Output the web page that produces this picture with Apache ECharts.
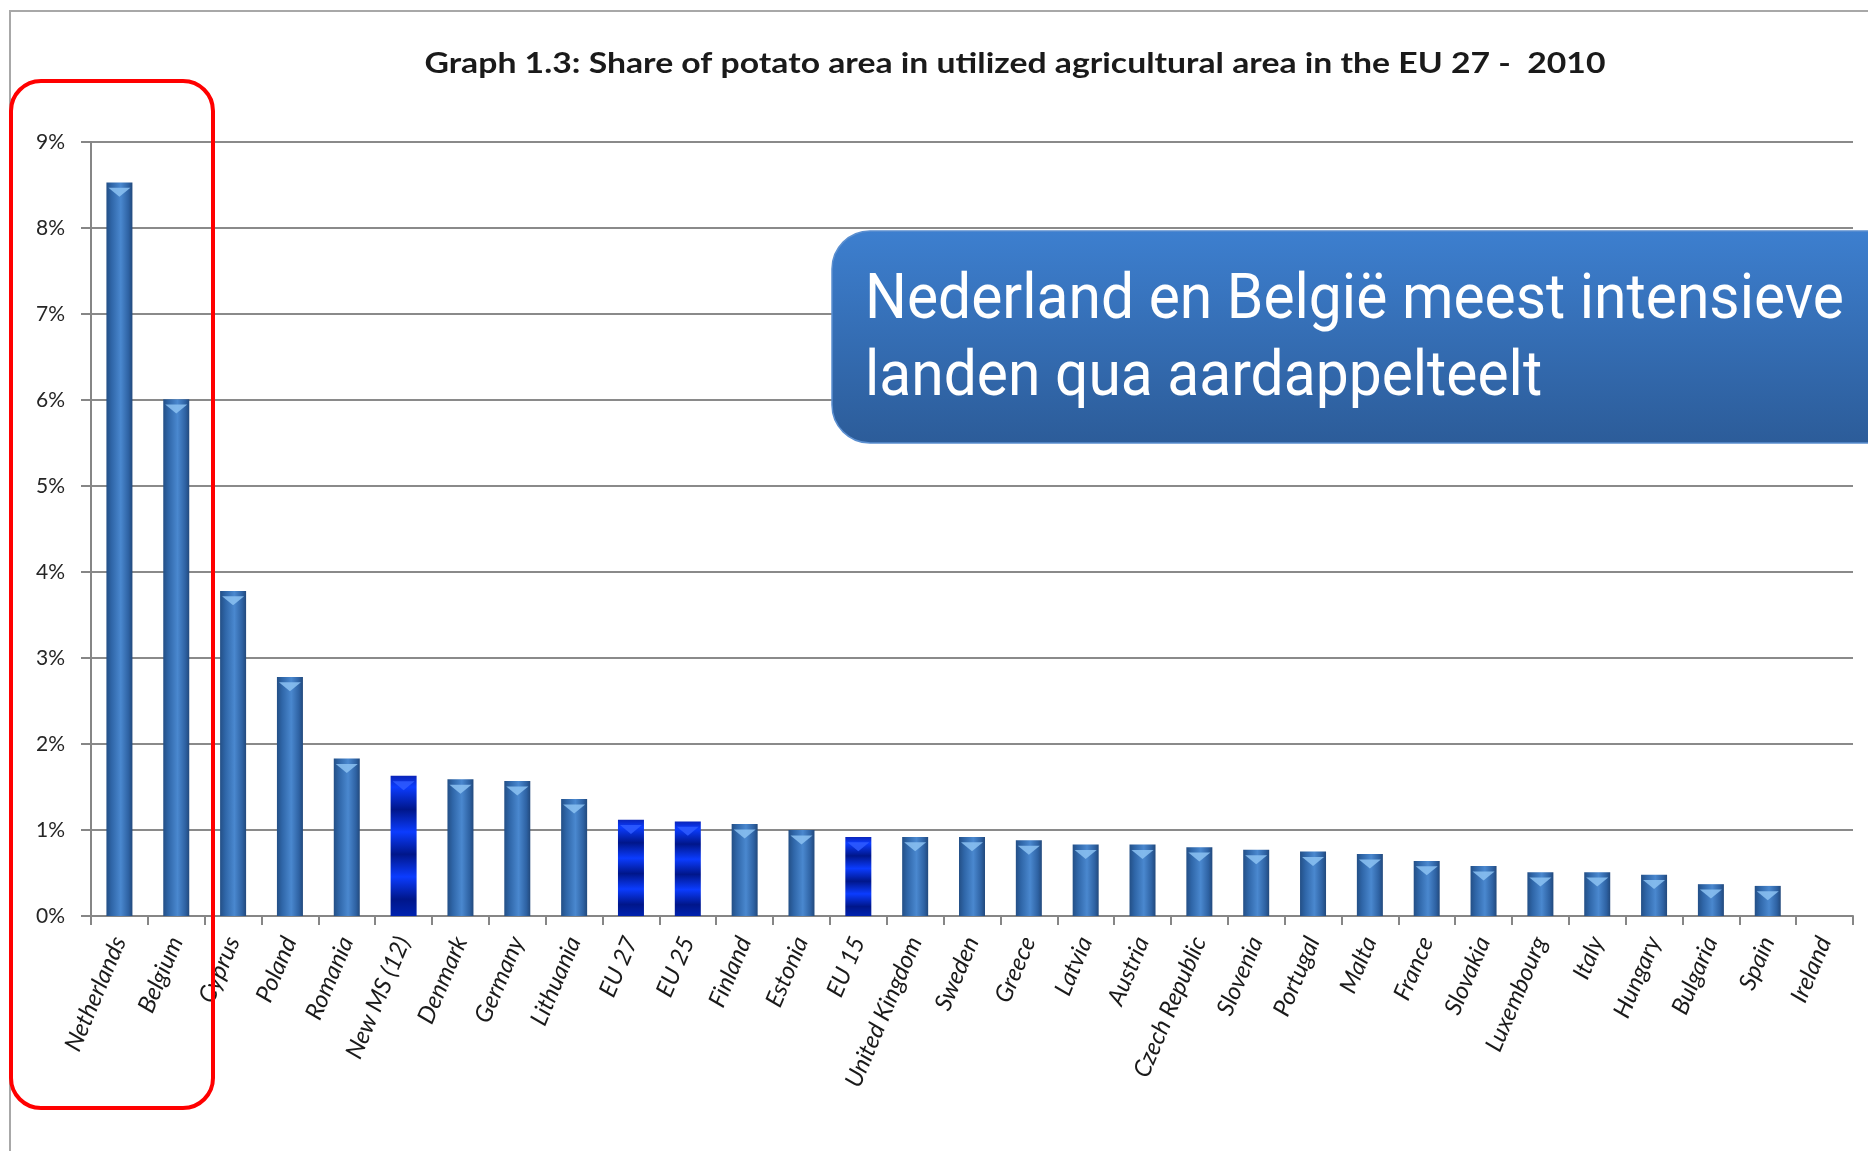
<!DOCTYPE html>
<html>
<head>
<meta charset="utf-8">
<title>Share of potato area</title>
<script src="https://cdn.jsdelivr.net/npm/echarts@6/dist/echarts.min.js"></script>
<style>
  html, body { margin: 0; padding: 0; background: #fff; }
  #chart { width: 1868px; height: 1151px; }
</style>
</head>
<body>
<div id="chart"></div>
<script>
'use strict';

// categories, in the order of the picture
var countries = [
  'Netherlands', 'Belgium', 'Cyprus', 'Poland', 'Romania', 'New MS (12)',
  'Denmark', 'Germany', 'Lithuania', 'EU 27', 'EU 25', 'Finland', 'Estonia',
  'EU 15', 'United Kingdom', 'Sweden', 'Greece', 'Latvia', 'Austria',
  'Czech Republic', 'Slovenia', 'Portugal', 'Malta', 'France', 'Slovakia',
  'Luxembourg', 'Italy', 'Hungary', 'Bulgaria', 'Spain', 'Ireland'
];

// share of potato area in UAA, percent
var shares = [
  8.53, 6.01, 3.78, 2.78, 1.83, 1.63,
  1.59, 1.57, 1.36, 1.12, 1.10, 1.07, 1.00,
  0.92, 0.92, 0.92, 0.88, 0.83, 0.83,
  0.80, 0.77, 0.75, 0.72, 0.64, 0.58,
  0.51, 0.51, 0.48, 0.37, 0.35, null
];

// aggregates drawn in the darker blue
var aggregates = ['New MS (12)', 'EU 27', 'EU 25', 'EU 15'];

var yTicks = [0, 1, 2, 3, 4, 5, 6, 7, 8, 9];

var titleText = 'Graph 1.3: Share of potato area in utilized agricultural area in the EU 27 -  2010';
var calloutLines = ['Nederland en België meest intensieve', 'landen qua aardappelteelt'];


(function(){

  /**
   * horizontal stretch so a text run gets a given width
   */
  function stretchTo(text, font, width){
    var ctx = document.createElement('canvas').getContext('2d');
    ctx.font = font;
    var w = ctx.measureText(text).width;
    return w > 0 ? width / w : 1;
  }

  var titleFont = 'bold 29px Lato';
  var calloutFont = '63px Roboto';

  var countryFill = new echarts.graphic.LinearGradient(0, 0, 1, 0, [
    {offset: 0, color: '#234f86'},
    {offset: 0.2, color: '#2f66a8'},
    {offset: 0.55, color: '#4a88cf'},
    {offset: 0.85, color: '#2e62a3'},
    {offset: 1, color: '#22497c'}
  ]);

  var aggFill = new echarts.graphic.LinearGradient(0, 0, 0, 1, [
    {offset: 0, color: '#0a24b8'},
    {offset: 0.08, color: '#0b3cff'},
    {offset: 0.24, color: '#00168a'},
    {offset: 0.40, color: '#0b3cff'},
    {offset: 0.56, color: '#00168a'},
    {offset: 0.72, color: '#0b3cff'},
    {offset: 0.88, color: '#00168a'},
    {offset: 1, color: '#0022b0'}
  ]);

  function isAgg(name){ return aggregates.indexOf(name) !== -1; }

  var barData = shares.map(function(v, i){
    return {
      value: v,
      itemStyle: { color: isAgg(countries[i]) ? aggFill : countryFill }
    };
  });

  var capData = shares.map(function(v, i){
    return {
      value: v,
      itemStyle: { color: isAgg(countries[i]) ? '#2f5cff' : '#8cc2f2' }
    };
  });

  var chart = echarts.init(document.getElementById('chart'));

  chart.setOption({
    animation: false,
    backgroundColor: '#ffffff',
    grid: { left: 91, right: 15, top: 142, bottom: 235, containLabel: false },
    xAxis: {
      type: 'category',
      data: countries,
      boundaryGap: true,
      axisLine: { lineStyle: { color: '#868686', width: 2 } },
      axisTick: { show: true, length: 9, lineStyle: { color: '#868686', width: 2 } },
      axisLabel: {
        interval: 0,
        rotate: 67,
        margin: 22,
        fontFamily: 'Lato',
        fontStyle: 'italic',
        fontSize: 24,
        color: '#1a1a1a'
      }
    },
    yAxis: {
      type: 'value',
      min: yTicks[0],
      max: yTicks[yTicks.length - 1],
      interval: 1,
      axisLine: { show: true, lineStyle: { color: '#868686', width: 2 } },
      axisTick: { show: true, length: 10, lineStyle: { color: '#868686', width: 2 } },
      axisLabel: {
        formatter: '{value}%',
        margin: 26,
        fontFamily: 'Lato',
        fontSize: 21,
        color: '#262626'
      },
      splitLine: { lineStyle: { color: '#8a8a8a', width: 2 } }
    },
    series: [
      {
        type: 'bar',
        data: barData,
        barWidth: 26,
        z: 2
      },
      {
        type: 'pictorialBar',
        data: capData,
        symbol: 'triangle',
        symbolRotate: 180,
        symbolSize: [22, 9],
        symbolPosition: 'end',
        symbolOffset: [0, '60%'],
        itemStyle: { opacity: 0.85 },
        z: 3
      }
    ],
    graphic: [
      {
        // outer frame of the slide picture
        type: 'polyline',
        shape: { points: [[10, 1151], [10, 11], [1868, 11]] },
        style: { stroke: '#a8a8a8', lineWidth: 2, fill: null },
        z: 0
      },
      {
        type: 'text',
        x: 1015,
        y: 49,
        scaleX: stretchTo(titleText, titleFont, 1181),
        style: {
          text: titleText,
          font: titleFont,
          fill: '#1a1a1a',
          textAlign: 'center',
          textVerticalAlign: 'top'
        },
        z: 5
      },
      {
        // red highlight around the two top countries
        type: 'rect',
        shape: { x: 11, y: 81, width: 202, height: 1027, r: 30 },
        style: { fill: null, stroke: '#ff0000', lineWidth: 4 },
        z: 10
      },
      {
        type: 'rect',
        shape: { x: 832, y: 231, width: 1060, height: 212, r: [38, 0, 0, 38] },
        style: {
          fill: new echarts.graphic.LinearGradient(0, 0, 0, 1, [
            {offset: 0, color: '#3d7fcf'},
            {offset: 1, color: '#2c5c99'}
          ]),
          stroke: '#5b8fd0',
          lineWidth: 1.5
        },
        z: 20
      },
      {
        type: 'text',
        x: 865,
        y: 264,
        scaleX: stretchTo(calloutLines[0], calloutFont, 979),
        style: {
          text: calloutLines.join('\n'),
          fill: '#ffffff',
          font: calloutFont,
          lineHeight: 77,
          textVerticalAlign: 'top'
        },
        z: 21
      }
    ]
  });

})();
</script>
</body>
</html>
